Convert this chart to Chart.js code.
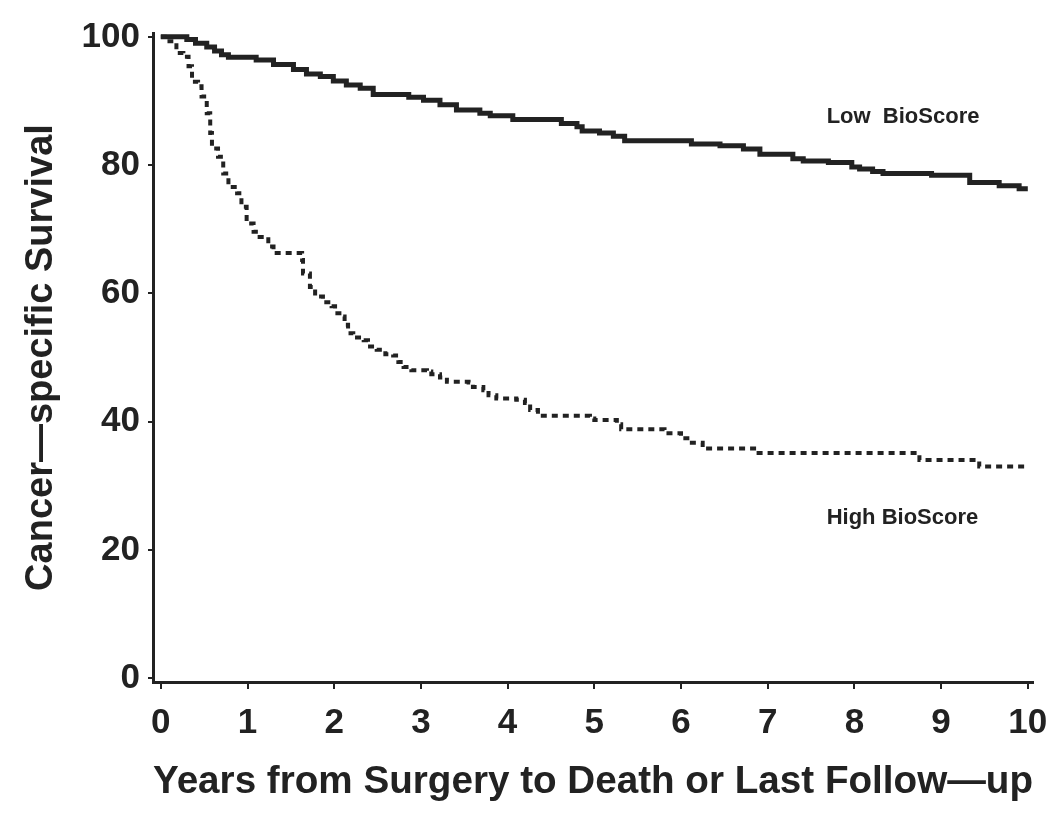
<!DOCTYPE html>
<html>
<head>
<meta charset="utf-8">
<script src="https://cdn.jsdelivr.net/npm/chart.js"></script>
<style>
  body { margin: 0; background: #fff; }
  canvas { display: block; }
</style>
</head>
<body>
<canvas id="survChart" width="1050" height="813"></canvas>
<script>
// Kaplan-Meier curves (time in years, survival %)
const lowTimes = [0, 0.30, 0.40, 0.53, 0.62, 0.70, 0.78, 1.10, 1.30, 1.53, 1.68, 1.84, 1.99, 2.14, 2.30, 2.45, 2.86, 3.03, 3.22, 3.41, 3.68, 3.80, 4.06, 4.62, 4.80, 4.86, 5.06, 5.22, 5.35, 6.12, 6.45, 6.72, 6.91, 7.29, 7.41, 7.70, 7.97, 8.06, 8.21, 8.33, 8.89, 9.33, 9.67, 9.90, 10.0];
const lowSurv  = [100, 99.6, 99.0, 98.4, 97.8, 97.2, 96.8, 96.4, 95.7, 94.9, 94.2, 93.8, 93.1, 92.5, 92.0, 91.0, 90.6, 90.1, 89.4, 88.6, 88.1, 87.7, 87.1, 86.5, 86.0, 85.3, 85.0, 84.5, 83.8, 83.3, 83.0, 82.5, 81.7, 81.0, 80.65, 80.4, 79.7, 79.4, 79.0, 78.7, 78.4, 77.3, 76.8, 76.3, 76.3];

const highTimes = [0, 0.10, 0.18, 0.26, 0.32, 0.36, 0.43, 0.47, 0.53, 0.57, 0.59, 0.66, 0.72, 0.78, 0.88, 0.93, 0.99, 1.07, 1.14, 1.24, 1.30, 1.63, 1.64, 1.72, 1.78, 1.87, 1.97, 2.01, 2.09, 2.12, 2.16, 2.22, 2.34, 2.39, 2.49, 2.59, 2.68, 2.74, 2.80, 2.89, 3.07, 3.12, 3.22, 3.30, 3.55, 3.60, 3.72, 3.78, 3.87, 4.10, 4.20, 4.26, 4.35, 4.95, 5.00, 5.26, 5.31, 5.81, 6.00, 6.10, 6.25, 6.87, 8.75, 9.44, 10.0];
const highSurv  = [100, 99.3, 97.5, 96.9, 95.4, 93.0, 92.3, 90.7, 88.1, 85.0, 82.6, 81.3, 78.7, 76.6, 75.6, 73.5, 70.9, 69.6, 68.8, 67.3, 66.3, 65.2, 63.1, 61.0, 59.5, 58.6, 58.0, 56.9, 56.4, 55.1, 53.8, 53.1, 52.7, 51.7, 51.2, 50.5, 50.3, 49.3, 48.5, 48.0, 47.8, 47.4, 46.9, 46.2, 46.1, 45.4, 44.9, 44.1, 43.6, 43.4, 42.9, 41.8, 40.9, 40.5, 40.25, 39.6, 38.8, 38.2, 37.4, 36.7, 35.8, 35.1, 34.0, 33.0, 33.0];

const xTicks = [0, 1, 2, 3, 4, 5, 6, 7, 8, 9, 10];
const yTicks = [0, 20, 40, 60, 80, 100];

const groupLabels = ['Low  BioScore', 'High BioScore'];

const INK = '#222';
const FONT = "'Liberation Sans', Arial, sans-serif";

function toPoints(xs, ys) {
    return xs.map((x, i) => ({ x: x, y: ys[i] }));
}

// curve labels, anchored in data coordinates
const curveLabels = {
    id: 'curveLabels',
    afterDatasetsDraw(chart) {
        const ctx = chart.ctx;
        const sx = chart.scales.x, sy = chart.scales.y;
        const spots = [[7.68, 87.5], [7.68, 25.0]];
        ctx.save();
        ctx.fillStyle = INK;
        ctx.font = 'bold 22px ' + FONT;
        ctx.textAlign = 'left';
        ctx.textBaseline = 'middle';
        groupLabels.forEach((txt, i) => {
            ctx.fillText(txt, sx.getPixelForValue(spots[i][0]), sy.getPixelForValue(spots[i][1]));
        });
        ctx.restore();
    }
};

new Chart(document.getElementById('survChart').getContext('2d'), {
    type: 'line',
    data: {
        datasets: [{
            label: 'Low BioScore',
            data: toPoints(lowTimes, lowSurv),
            borderColor: INK,
            borderWidth: 5,
            stepped: true,
            pointRadius: 0,
            fill: false
        }, {
            label: 'High BioScore',
            data: toPoints(highTimes, highSurv),
            borderColor: INK,
            borderWidth: 4,
            borderDash: [6, 5],
            stepped: true,
            pointRadius: 0,
            fill: false
        }]
    },
    options: {
        responsive: false,
        animation: false,
        layout: { padding: { top: 33, right: 17, left: 0, bottom: 0 } },
        plugins: {
            legend: { display: false },
            tooltip: { enabled: false }
        },
        scales: {
            x: {
                type: 'linear',
                min: -0.09,
                max: 10.06,
                afterBuildTicks: scale => { scale.ticks = xTicks.map(v => ({ value: v })); },
                afterFit: scale => {
                    scale.height = 131;
                    scale.paddingLeft = 0;
                    scale.paddingRight = 0;
                },
                border: { display: true, color: INK, width: 3 },
                grid: { drawOnChartArea: false, drawTicks: true, tickLength: 7, color: INK, lineWidth: 2 },
                ticks: {
                    color: INK,
                    padding: 13,
                    maxRotation: 0,
                    font: { family: FONT, size: 35, weight: 'bold' }
                },
                title: {
                    display: true,
                    text: 'Years from Surgery to Death or Last Follow\u2014up',
                    color: INK,
                    padding: { top: 0, bottom: 7 },
                    font: { family: FONT, size: 39, weight: 'bold' }
                }
            },
            y: {
                type: 'linear',
                min: -0.6,
                max: 100.6,
                afterBuildTicks: scale => { scale.ticks = yTicks.map(v => ({ value: v })); },
                afterFit: scale => {
                    scale.width = 153;
                    scale.paddingTop = 0;
                    scale.paddingBottom = 0;
                },
                border: { display: true, color: INK, width: 3 },
                grid: { drawOnChartArea: false, drawTicks: true, tickLength: 5, color: INK, lineWidth: 2 },
                ticks: {
                    color: INK,
                    padding: 8,
                    font: { family: FONT, size: 35, weight: 'bold' }
                },
                title: {
                    display: true,
                    text: 'Cancer\u2014specific Survival',
                    color: INK,
                    padding: { top: 19, bottom: 0 },
                    font: { family: FONT, size: 38, weight: 'bold' }
                }
            }
        }
    },
    plugins: [curveLabels]
});
</script>
</body>
</html>
